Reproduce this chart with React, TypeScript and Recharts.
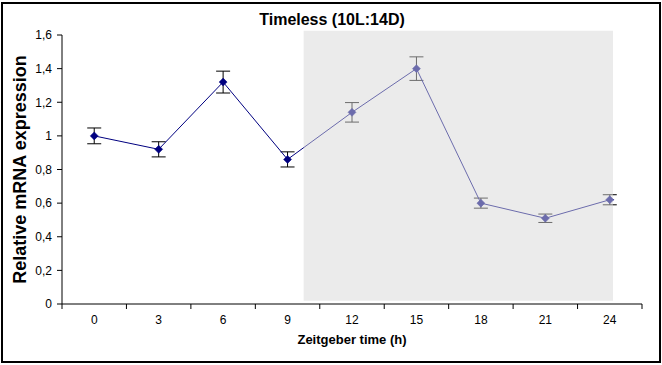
import React from 'react'
import {
  ErrorBar,
  Line,
  LineChart,
  ReferenceArea,
  XAxis,
  YAxis
} from 'recharts'

// Zeitgeber time (h) and mean relative expression with error
const zeitgeberTime = [0, 3, 6, 9, 12, 15, 18, 21, 24]
const expression = [1.0, 0.92, 1.32, 0.86, 1.14, 1.4, 0.6, 0.51, 0.62]
const errors = [0.047, 0.045, 0.065, 0.045, 0.058, 0.07, 0.03, 0.025, 0.03]

const yTicks = [0, 0.2, 0.4, 0.6, 0.8, 1, 1.2, 1.4, 1.6]
// category boundaries (tick marks sit between the labels, Excel style)
const xBoundaries = [-1.5, 1.5, 4.5, 7.5, 10.5, 13.5, 16.5, 19.5, 22.5, 25.5]

// dark phase shading
const darkStart = 9.75
const darkEnd = 24.15
const darkBottom = 0.02
const darkTop = 1.625

const data = zeitgeberTime.map((zt, i) => ({
  zt,
  value: expression[i],
  err: errors[i]
}))

const FONT = '"Liberation Sans", Arial, sans-serif'

const Diamond = (props: any) => {
  const { cx, cy } = props
  if (cx == null || cy == null) return null
  const s = 4
  return (
    <path
      d={`M${cx},${cy - s}L${cx + s},${cy}L${cx},${cy + s}L${cx - s},${cy}Z`}
      fill="#000080"
      stroke="#000080"
      strokeWidth={0.5}
    />
  )
}

const YLabel = (props: any) => {
  const vb = props.viewBox || {}
  const cy = vb.y + vb.height / 2
  return (
    <text
      x={20}
      y={cy}
      transform={`rotate(-90, 20, ${cy})`}
      textAnchor="middle"
      dominantBaseline="central"
      style={{ fontFamily: FONT, fontSize: 18, fontWeight: 'bold', fill: '#000' }}
    >
      Relative mRNA expression
    </text>
  )
}

const XLabel = (props: any) => {
  const vb = props.viewBox || {}
  return (
    <text
      x={vb.x + vb.width / 2}
      y={vb.y + vb.height + 8}
      textAnchor="middle"
      dominantBaseline="central"
      style={{ fontFamily: FONT, fontSize: 13, fontWeight: 'bold', fill: '#000' }}
    >
      Zeitgeber time (h)
    </text>
  )
}

export default function App() {
  return (
    <div style={{ position: 'absolute', left: 0, top: 0, width: 662, height: 365, background: '#fff' }}>
      <style>{'body{margin:0}'}</style>
      <div
        style={{
          position: 'absolute',
          left: 1,
          top: 2,
          width: 660,
          height: 361,
          border: '2px solid #000',
          boxSizing: 'border-box'
        }}
      />
      <div
        style={{
          position: 'absolute',
          left: 0,
          top: 9,
          width: 664,
          textAlign: 'center',
          fontFamily: FONT,
          fontSize: 16,
          fontWeight: 'bold',
          lineHeight: '22px',
          color: '#000'
        }}
      >
        Timeless (10L:14D)
      </div>
      <LineChart
        width={662}
        height={365}
        data={data}
        margin={{ top: 35, right: 20, left: 0, bottom: 34 }}
        style={{ position: 'absolute', left: 0, top: 0 }}
      >
        <XAxis
          xAxisId={0}
          dataKey="zt"
          type="number"
          domain={[-1.5, 25.5]}
          allowDataOverflow
          ticks={xBoundaries}
          tickFormatter={() => ''}
          height={5}
          tickSize={5}
          axisLine={{ stroke: '#000' }}
          tickLine={{ stroke: '#000' }}
        />
        <XAxis
          xAxisId="labels"
          dataKey="zt"
          type="number"
          domain={[-1.5, 25.5]}
          allowDataOverflow
          ticks={zeitgeberTime}
          interval={0}
          height={22}
          axisLine={false}
          tickLine={false}
          tickSize={4}
          tickMargin={2}
          tick={{ fill: '#000', fontSize: 12, fontFamily: FONT }}
          label={XLabel}
        />
        <YAxis
          domain={[0, 1.6]}
          ticks={yTicks}
          interval={0}
          width={62}
          tickSize={5}
          tickMargin={5}
          axisLine={{ stroke: '#000' }}
          tickLine={{ stroke: '#000' }}
          tick={{ fill: '#000', fontSize: 12, fontFamily: FONT }}
          tickFormatter={(v) => String(v).replace('.', ',')}
          label={YLabel}
        />
        <Line
          dataKey="value"
          type="linear"
          stroke="#000080"
          strokeWidth={1}
          dot={<Diamond />}
          activeDot={false}
          isAnimationActive={false}
        >
          <ErrorBar dataKey="err" direction="y" width={7} stroke="#000" strokeWidth={1} />
        </Line>
        <ReferenceArea
          x1={darkStart}
          x2={darkEnd}
          y1={darkBottom}
          y2={darkTop}
          fill="#d7d7d7"
          fillOpacity={0.5}
          stroke="none"
          ifOverflow="visible"
          zIndex={2000}
        />
      </LineChart>
    </div>
  )
}
